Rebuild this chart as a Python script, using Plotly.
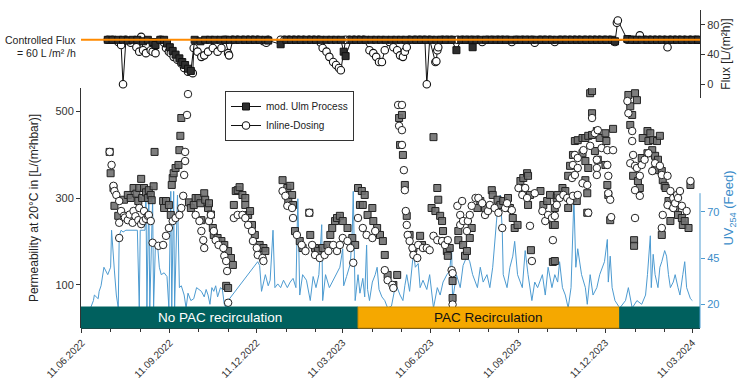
import pandas as pd
import plotly.graph_objects as go

# ---------------- data ----------------
START = pd.Timestamp("2022-06-11")          # day 0 of the trial (days counted from here)
X_RANGE = ["2022-06-10", "2024-03-19"]

# permeability at 20 °C [L/(m² h bar)]  -> (day, value)
ulm_perm = [
    (29, 406), (30, 357), (33, 323), (34, 282), (38, 259), (44, 296), (48, 307), (51, 300), (54, 323),
    (57, 310), (59, 293), (60, 323), (62, 344), (63, 300), (65, 323), (67, 313), (69, 300), (70, 318),
    (72, 307), (73, 295), (75, 327), (76, 406), (85, 293), (86, 277), (88, 293), (91, 284), (93, 261),
    (94, 330), (95, 346), (96, 357), (98, 369), (101, 376), (102, 410), (103, 443), (104, 484),
    (112, 290), (114, 277), (117, 284), (119, 300), (122, 300), (124, 288), (125, 249), (128, 311),
    (129, 296), (132, 277), (133, 288), (135, 262), (137, 231), (138, 215), (142, 208), (146, 201),
    (149, 192), (151, 98), (153, 178), (153, 93), (156, 162), (158, 146), (159, 284), (161, 316),
    (163, 318), (165, 325), (168, 307), (171, 300), (171, 284), (174, 261), (176, 270), (178, 238),
    (181, 215), (186, 192), (190, 185), (192, 178),
    (210, 443), (210, 341), (215, 323), (216, 293), (218, 328), (220, 307), (221, 284), (223, 224),
    (228, 201), (231, 185), (238, 266), (239, 215), (244, 185), (247, 178), (252, 185), (257, 192),
    (260, 215), (262, 231), (265, 247), (267, 254), (270, 259), (273, 247), (278, 231), (283, 208),
    (286, 192), (289, 323), (291, 284), (293, 316), (294, 284), (296, 307), (299, 261), (304, 277),
    (305, 247), (309, 231), (312, 215), (315, 201), (317, 169), (320, 123), (326, 100), (330, 123),
    (332, 484), (333, 422), (335, 491), (336, 399), (338, 330), (340, 259), (343, 215), (347, 185),
    (354, 213), (356, 192), (366, 277), (368, 440), (370, 270), (372, 323), (373, 296), (375, 259),
    (377, 247), (378, 224), (378, 201), (382, 178), (383, 167), (385, 185), (388, 109), (388, 70),
    (394, 224), (394, 203), (399, 192), (401, 167), (403, 178), (406, 208), (408, 231), (414, 277),
    (417, 293), (422, 277), (429, 318), (430, 307), (435, 296), (438, 284), (441, 293), (446, 300),
    (448, 277), (451, 254), (453, 231), (456, 238), (459, 339), (462, 346), (462, 323), (466, 357),
    (467, 351), (467, 284), (469, 307), (470, 180), (480, 316), (483, 284), (487, 293), (490, 307),
    (493, 238), (493, 153), (495, 277), (495, 238), (495, 155), (497, 300), (498, 307), (503, 323),
    (506, 316), (509, 277), (509, 351), (511, 374), (514, 300), (514, 399), (516, 431), (518, 293),
    (519, 433), (524, 438), (524, 403), (527, 438), (527, 385), (527, 341), (529, 311), (529, 266),
    (530, 443), (530, 369), (532, 541), (534, 445), (534, 546), (534, 495), (537, 408), (539, 454),
    (540, 388), (542, 438), (548, 449), (548, 376), (549, 431), (550, 330), (551, 307), (553, 249),
    (556, 459), (572, 537), (574, 511), (574, 468), (576, 491), (577, 351), (578, 203), (578, 190),
    (579, 541), (581, 525), (582, 339), (584, 323), (586, 392), (587, 438), (592, 454), (592, 403),
    (593, 431), (595, 449), (597, 410), (598, 433), (600, 397), (600, 364), (602, 431), (603, 388),
    (605, 443), (607, 362), (607, 215), (608, 341), (610, 328), (611, 323), (614, 293), (616, 247),
    (618, 282), (621, 277), (624, 261), (628, 254), (629, 238), (631, 247), (635, 231), (637, 330),
]

inline_perm = [
    (29, 406), (31, 376), (33, 328), (34, 316), (36, 307), (39, 293), (39, 243), (39, 208), (41, 270),
    (44, 259), (45, 255), (48, 249), (50, 262), (53, 243), (54, 270), (56, 258), (59, 249), (60, 277),
    (62, 240), (64, 247), (65, 270), (67, 252), (69, 259), (70, 261), (72, 247), (74, 197), (80, 190),
    (85, 192), (88, 213), (91, 231), (95, 247), (98, 254), (102, 261), (104, 277), (106, 305),
    (107, 353), (108, 385), (108, 406), (110, 491), (111, 539), (119, 261), (123, 247), (125, 224),
    (127, 203), (128, 185), (133, 247), (135, 261), (138, 224), (140, 203), (143, 192), (148, 185),
    (149, 167), (151, 155), (152, 132), (153, 59), (159, 254), (163, 261), (168, 261), (171, 254),
    (174, 238), (178, 224), (179, 201), (183, 185), (184, 169), (189, 162), (190, 155),
    (210, 316), (213, 305), (215, 282), (220, 277), (221, 254), (225, 215), (230, 192), (234, 178),
    (238, 266), (241, 192), (244, 169), (249, 162), (254, 169), (258, 178), (263, 192), (267, 178),
    (270, 192), (273, 208), (278, 201), (281, 185), (284, 151), (289, 254), (294, 231), (298, 215),
    (304, 208), (307, 224), (317, 134), (320, 111), (325, 100), (326, 93), (331, 514), (332, 466),
    (335, 514), (335, 456), (335, 422), (337, 364), (338, 318), (339, 270), (340, 238), (341, 215),
    (343, 201), (346, 185), (347, 169), (351, 162), (352, 192), (357, 185), (361, 185), (364, 180),
    (368, 213), (372, 203), (377, 201), (380, 192), (383, 203), (387, 134), (388, 127), (388, 55),
    (393, 282), (396, 261), (396, 238), (398, 293), (399, 247), (403, 224), (404, 247), (406, 261),
    (408, 282), (412, 300), (415, 300), (419, 288), (422, 261), (425, 270), (427, 284), (432, 277),
    (436, 266), (440, 231), (443, 277), (445, 288), (450, 272), (457, 323), (461, 307), (464, 323),
    (466, 300), (469, 236), (471, 155), (474, 311), (482, 270), (485, 247), (488, 261), (492, 254),
    (493, 203), (495, 259), (497, 284), (500, 300), (504, 307), (508, 300), (511, 293), (513, 346),
    (514, 305), (514, 376), (516, 399), (516, 353), (519, 307), (519, 392), (519, 369), (524, 334),
    (525, 410), (529, 330), (530, 266), (532, 420), (534, 484), (537, 449), (539, 388), (539, 369),
    (539, 353), (540, 456), (544, 415), (550, 410), (550, 376), (551, 351), (551, 311), (553, 296),
    (554, 256), (556, 410), (571, 523), (572, 495), (574, 380), (576, 454), (576, 431), (577, 399),
    (579, 374), (579, 318), (579, 254), (581, 369), (584, 351), (584, 305), (586, 376), (589, 388),
    (593, 403), (597, 362), (600, 380), (605, 374), (607, 353), (607, 231), (608, 261), (613, 351),
    (613, 284), (616, 316), (619, 300), (619, 277), (621, 288), (623, 307), (624, 300), (626, 316),
    (628, 282), (633, 270), (637, 339),
]

# flux [L/(m² h)] -> (day, value)
ulm_flux = [
    (27, 60), (32, 60), (38, 60), (43, 60), (48, 59), (53, 60), (58, 60), (64, 58), (69, 60), (74, 57),
    (77, 53), (82, 60), (86, 60), (89, 55), (92, 50), (95, 45), (98, 40), (102, 35), (105, 30),
    (108, 26), (111, 21), (114, 18), (118, 60), (124, 58), (129, 60), (134, 60), (139, 60), (145, 60),
    (150, 60), (155, 60), (160, 60), (165, 60), (171, 60), (176, 60), (181, 60), (186, 60), (192, 60),
    (195, 59),
    (208, 54), (214, 60), (219, 60), (224, 60), (229, 60), (235, 60), (240, 60), (245, 60), (250, 60),
    (256, 60), (261, 60), (266, 60), (271, 60), (274, 44), (276, 38), (282, 60), (287, 60), (292, 60),
    (297, 60), (303, 60), (308, 60), (313, 60), (318, 60), (324, 60), (329, 60), (334, 60), (339, 60),
    (345, 60), (350, 60), (355, 60), (360, 60), (366, 60), (371, 60), (376, 60), (381, 60), (387, 60),
    (392, 46), (397, 60), (402, 60), (408, 60), (409, 50), (413, 60), (418, 60), (423, 60), (429, 60),
    (434, 60), (439, 60), (444, 60), (450, 60), (455, 60), (460, 60), (465, 60), (471, 60), (476, 60),
    (481, 60), (486, 60), (492, 60), (497, 60), (502, 60), (507, 60), (513, 60), (518, 60), (523, 60),
    (528, 60), (534, 60), (539, 60), (544, 60), (549, 60), (555, 60), (558, 58),
    (571, 61), (576, 60), (581, 60), (586, 60), (592, 60), (597, 60), (602, 60), (607, 60), (613, 60),
    (618, 60), (623, 60), (628, 60), (634, 60), (639, 60), (645, 60),
]

inline_flux = [
    (27, 60), (32, 60), (38, 57), (41, 53), (43, 0), (46, 60), (51, 56), (57, 50), (60, 44), (62, 64),
    (64, 46), (67, 42), (72, 46), (74, 44), (77, 42), (82, 60), (86, 56), (88, 49), (91, 44), (93, 42),
    (96, 37), (100, 33), (104, 28), (107, 22), (111, 17), (116, 15), (117, 49), (121, 44), (125, 37),
    (128, 39), (132, 44), (137, 49), (142, 44), (146, 49), (150, 60), (153, 42), (154, 39), (158, 60),
    (163, 60), (169, 60), (174, 60), (179, 60), (184, 60), (190, 58), (193, 56), (195, 60),
    (208, 60), (212, 60), (217, 60), (222, 60), (227, 60), (232, 60), (238, 60), (243, 60), (248, 60),
    (250, 56), (252, 49), (256, 44), (259, 37), (263, 30), (266, 26), (269, 22), (271, 19), (276, 60),
    (280, 60), (285, 60), (290, 60), (295, 60), (301, 46), (305, 42), (308, 37), (311, 30), (314, 30),
    (317, 46), (322, 57), (326, 50), (330, 46), (333, 39), (336, 37), (338, 44), (340, 50), (343, 60),
    (349, 60), (354, 60), (359, 60), (361, 0), (364, 60), (370, 30), (371, 31), (372, 46), (373, 50),
    (377, 60), (382, 60), (387, 60), (393, 60), (398, 60), (403, 60), (408, 60), (414, 60), (419, 57),
    (424, 60), (429, 60), (435, 60), (440, 60), (445, 60), (450, 57), (455, 60), (461, 60), (466, 60),
    (471, 60), (474, 56), (480, 60), (485, 60), (490, 60), (495, 57), (501, 60), (506, 60), (511, 60),
    (516, 60), (521, 60), (527, 60), (532, 60), (537, 60), (542, 60), (548, 60), (553, 60), (558, 57),
    (560, 83), (561, 86),
    (571, 60), (576, 60), (581, 60), (584, 66), (590, 60), (595, 60), (600, 60), (605, 60), (610, 60),
    (613, 50), (616, 60), (621, 60), (626, 60), (631, 60), (637, 60), (642, 60), (645, 60),
]

# UV254 of the feed -> (day, value)
uv_feed = [
    (1, 18), (9, 18), (12, 22), (13, 25), (17, 23), (18, 27), (20, 30), (22, 36), (23, 40), (25, 38),
    (27, 36), (30, 40), (31, 60), (34, 38), (36, 25), (38, 18), (39, 57), (41, 60), (43, 59), (46, 60),
    (50, 60), (54, 60), (58, 60), (60, 18), (61, 60), (64, 60), (66, 60), (67, 79), (68, 18), (70, 79),
    (71, 18), (74, 77), (75, 18), (77, 54), (79, 53), (81, 40), (83, 36), (86, 37), (89, 35), (91, 18),
    (93, 81), (94, 18), (96, 81), (97, 18), (100, 79), (102, 29), (104, 30), (107, 25), (109, 18),
    (111, 26), (114, 22), (117, 23), (120, 29), (125, 27), (128, 24), (130, 28), (132, 25), (134, 20),
    (136, 29), (138, 27), (140, 30), (142, 24), (145, 29), (147, 28), (149, 20), (151, 18), (153, 22),
    (184, 43), (186, 41), (188, 27), (192, 36), (195, 30), (197, 33), (200, 60), (202, 29), (205, 31),
    (208, 29), (211, 33), (215, 29), (218, 32), (221, 34), (224, 29), (226, 77), (228, 25), (231, 36),
    (235, 33), (239, 22), (242, 35), (245, 29), (248, 36), (251, 63), (252, 22), (255, 36), (259, 29),
    (262, 32), (265, 35), (268, 38), (270, 40), (273, 50), (274, 30), (277, 35), (281, 42), (283, 60),
    (284, 81), (286, 22), (289, 36), (291, 26), (294, 34), (296, 24), (298, 52), (299, 28), (301, 22),
    (304, 32), (307, 36), (309, 40), (311, 28), (314, 24), (317, 22), (320, 18), (324, 19), (327, 27),
    (330, 29), (333, 25), (336, 22), (338, 30), (340, 36), (343, 27), (347, 48), (349, 40), (352, 42),
    (354, 29), (357, 33), (361, 28), (364, 36), (368, 18), (372, 29), (375, 25), (378, 32), (382, 36),
    (385, 38), (387, 50), (388, 22), (392, 36), (396, 29), (399, 41), (403, 46), (406, 43), (409, 36),
    (414, 29), (417, 40), (420, 32), (424, 36), (427, 29), (430, 40), (434, 65), (436, 77), (438, 79),
    (440, 60), (441, 36), (445, 29), (448, 40), (451, 46), (453, 54), (456, 36), (461, 29), (464, 49),
    (467, 36), (471, 22), (474, 32), (477, 29), (482, 36), (485, 25), (488, 40), (492, 29), (495, 36),
    (498, 32), (500, 43), (503, 29), (506, 25), (509, 18), (512, 29), (515, 77), (517, 40), (519, 50),
    (523, 36), (527, 29), (529, 20), (532, 36), (535, 25), (539, 29), (542, 36), (545, 40), (547, 43),
    (550, 55), (551, 32), (553, 46), (555, 29), (558, 22), (563, 18), (569, 22), (572, 29), (576, 18),
    (581, 22), (586, 20), (590, 25), (592, 36), (595, 57), (596, 29), (598, 47), (600, 36), (603, 29),
    (605, 40), (607, 43), (610, 49), (612, 46), (614, 36), (616, 29), (619, 32), (621, 36), (624, 29),
    (626, 25), (629, 36), (631, 43), (633, 29), (637, 23), (639, 22),
]

phases = [
    ("2022-06-10", "2023-03-27", "No PAC recirculation", "#00605e", "white"),
    ("2023-03-27", "2023-12-26", "PAC Recirculation", "#f5a800", "#111111"),
    ("2023-12-26", "2024-03-19", "", "#00605e", "white"),
]
CONTROLLED_FLUX = 60
PERM_TICKS = [100, 300, 500]
FLUX_TICKS = [0, 40, 80]
UV_TICKS = [20, 45, 70]


def split(pairs):
    pairs = sorted(pairs, key=lambda p: p[0])
    return [START + pd.Timedelta(days=d) for d, _ in pairs], [v for _, v in pairs]


# ---------------- figure ----------------
FONT = "Arial, 'Liberation Sans', sans-serif"
DARK = "#222222"
BLUE = "#4d9bd1"
BLUE_TXT = "#3a8cc9"
ORANGE = "#ff8a00"

sq_marker = dict(symbol="square", size=7, color="rgba(112,112,112,0.9)", line=dict(color=DARK, width=1))
ci_marker = dict(symbol="circle", size=7.5, color="white", line=dict(color=DARK, width=1))
sq_marker_flux = dict(symbol="square", size=7, color="#2e2e2e", line=dict(color="#111", width=1))
ci_marker_flux = dict(symbol="circle", size=7.5, color="white", line=dict(color="#111", width=1.1))

fig = go.Figure()

# UV line on the base subplot (x / y); y is the blue right-hand axis
x, y = split(uv_feed)
fig.add_trace(go.Scatter(x=x, y=y, mode="lines", line=dict(color=BLUE, width=1),
                         xaxis="x", yaxis="y", showlegend=False, hoverinfo="skip"))

# flux panel (x / y2)
x, y = split(inline_flux)
fig.add_trace(go.Scatter(x=x, y=y, mode="lines+markers", marker=ci_marker_flux,
                         line=dict(color="#111", width=1), xaxis="x", yaxis="y2",
                         name="Inline-Dosing", legendgroup="inl"))
x, y = split(ulm_flux)
fig.add_trace(go.Scatter(x=x, y=y, mode="lines+markers", marker=sq_marker_flux,
                         line=dict(color="#111", width=1), xaxis="x", yaxis="y2",
                         name="mod. Ulm Process", legendgroup="ulm"))
# controlled flux set-point line
fig.add_trace(go.Scatter(x=X_RANGE, y=[CONTROLLED_FLUX, CONTROLLED_FLUX], mode="lines",
                         line=dict(color=ORANGE, width=2), xaxis="x", yaxis="y2",
                         showlegend=False, hoverinfo="skip"))

# permeability markers (x / y3, left axis)
x, y = split(ulm_perm)
fig.add_trace(go.Scatter(x=x, y=y, mode="markers", marker=sq_marker, xaxis="x", yaxis="y3",
                         showlegend=False, legendgroup="ulm"))
x, y = split(inline_perm)
fig.add_trace(go.Scatter(x=x, y=y, mode="markers", marker=ci_marker, xaxis="x", yaxis="y3",
                         showlegend=False, legendgroup="inl"))

W, H = 739, 386
X_DOM = [81 / W, 700 / W]
MAIN_DOM = [1 - 328 / H, 1 - 88 / H]
FLUX_DOM = [1 - 98 / H, 1 - 10 / H]
PERM_RANGE = [1, 553]
UV_RANGE = [7.2, 136.8]
UV_LINE_TOP = 80

shapes = []
annotations = []
for start, end, label, color, tcolor in phases:
    shapes.append(dict(type="rect", xref="x", yref="y3 domain", x0=start, x1=end, y0=0, y1=0.0875,
                       fillcolor=color,
                       line=dict(color="#c98b00" if color == "#f5a800" else color, width=1),
                       layer="above"))
    if label:
        mid = pd.Timestamp(start) + (pd.Timestamp(end) - pd.Timestamp(start)) / 2
        annotations.append(dict(x=mid, y=0.044, xref="x", yref="y3 domain", text=label,
                                showarrow=False, font=dict(size=13.5, color=tcolor, family=FONT),
                                xanchor="center", yanchor="middle"))

# partial UV axis line
shapes.append(dict(type="line", xref="x domain", yref="y", x0=1, x1=1, y0=UV_RANGE[0],
                   y1=UV_LINE_TOP, line=dict(color=BLUE, width=1), layer="above"))

annotations.append(dict(x=0, y=CONTROLLED_FLUX, xref="x domain", yref="y2", text="Controlled Flux",
                        showarrow=False, xanchor="right", yanchor="middle", xshift=-3,
                        font=dict(size=10.5, color="#222", family=FONT)))
annotations.append(dict(x=0, y=CONTROLLED_FLUX, xref="x domain", yref="y2", text="= 60 L /m² /h",
                        showarrow=False, xanchor="right", yanchor="middle", xshift=-3, yshift=-13,
                        font=dict(size=10.5, color="#222", family=FONT)))

fig.update_layout(
    width=W, height=H, margin=dict(l=0, r=0, t=0, b=0),
    paper_bgcolor="white", plot_bgcolor="rgba(0,0,0,0)",
    font=dict(family=FONT, size=11, color="#333"),
    showlegend=True,
    legend=dict(x=225 / W, y=1 - 91 / H, xanchor="left", yanchor="top", bgcolor="white",
                bordercolor="#333", borderwidth=1, font=dict(size=10, color="#222"),
                tracegroupgap=0, itemwidth=30, traceorder="reversed"),
    xaxis=dict(domain=X_DOM, range=X_RANGE, type="date", anchor="y",
               tick0="2022-06-11", dtick="M3", tickformat="%d.%m.%Y", tickangle=-45,
               ticks="outside", ticklen=4, tickcolor="#333", showline=True, linecolor="#333",
               linewidth=1, showgrid=False, zeroline=False, automargin=False,
               tickfont=dict(size=10, color="#333"),
               minor=dict(dtick="M1", tick0="2022-06-11", ticks="outside", ticklen=2.5,
                          tickcolor="#333", showgrid=False)),
    yaxis=dict(domain=MAIN_DOM, side="right", anchor="x", range=UV_RANGE, tickvals=UV_TICKS,
               ticks="outside", ticklen=4, tickcolor=BLUE, showline=False, showgrid=False,
               zeroline=False, automargin=False, tickfont=dict(size=11, color=BLUE_TXT),
               title=dict(text="UV<sub>254</sub> (Feed)", font=dict(size=13, color=BLUE_TXT),
                          standoff=5)),
    yaxis2=dict(domain=FLUX_DOM, range=[-18.5, 100.2], anchor="x", side="right",
                tickvals=FLUX_TICKS, ticks="outside", ticklen=4, tickcolor="#333", showline=True,
                linecolor="#333", showgrid=False, zeroline=False, automargin=False,
                tickfont=dict(size=11),
                title=dict(text="Flux [L/(m²h)]", font=dict(size=12, color="#222"), standoff=3)),
    yaxis3=dict(domain=MAIN_DOM, side="left", range=PERM_RANGE, anchor="x", tickvals=PERM_TICKS,
                ticks="outside", ticklen=4, tickcolor="#333", showline=True, linecolor="#333",
                showgrid=False, zeroline=False, automargin=False, tickfont=dict(size=11),
                title=dict(text="Permeability at 20°C in [L/(m²hbar)]",
                           font=dict(size=12, color="#222"), standoff=14)),
    shapes=shapes,
    annotations=annotations,
)

fig.write_html("out.html")
